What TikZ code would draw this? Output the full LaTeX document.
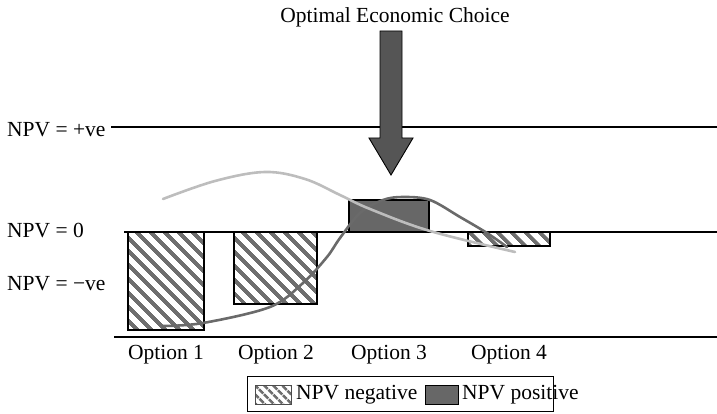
\documentclass[tikz,border=0pt]{standalone}
\usepackage{fontspec}
\setmainfont{Liberation Serif}
\usetikzlibrary{patterns.meta}
\definecolor{bargray}{HTML}{676767}
\definecolor{arrowgray}{HTML}{555555}
\definecolor{curvedark}{HTML}{6A6A6A}
\definecolor{curvelight}{HTML}{BDBDBD}
\definecolor{hatchgray}{HTML}{6E6E6E}
\tikzset{
  lbl/.style={inner sep=0pt, font=\fontsize{21.5}{24}\selectfont},
  level/.style={line width=1.8pt, black},
  negbar/.style={draw=black, line width=1.3pt, fill=white,
    pattern={Lines[angle=-45,distance=10.5pt,line width=4.3pt]}, pattern color=hatchgray},
  posbar/.style={draw=black, line width=1.3pt, fill=bargray},
  trend/.style={line width=2.6pt, line cap=round},
}
\begin{document}
\begin{tikzpicture}[x=1pt,y=-1pt]
\useasboundingbox (0,0) rectangle (717,414);

% NPV reference levels
\coordinate (pos-l) at (111,127); \coordinate (pos-r) at (717,127);
\coordinate (zero-l) at (124,232); \coordinate (zero-r) at (717,232);
\coordinate (neg-l) at (114,337); \coordinate (neg-r) at (717,337);
\draw[level] (pos-l) -- (pos-r);
\draw[level] (zero-l) -- (zero-r);
\draw[level] (neg-l) -- (neg-r);

\node[lbl, anchor=west] (lpos) at (7,130) {NPV = +ve};
\node[lbl, anchor=west] (lzero) at (7,231) {NPV = 0};
\node[lbl, anchor=west] (lneg) at (7,284) {NPV = −ve};

% option bars
\draw[negbar] (128,232) rectangle (204,330);
\draw[negbar] (234,232) rectangle (317,304);
\draw[posbar] (349,200) rectangle (429,232);
\draw[negbar] (468,232) rectangle (550,246);
\draw[level] (zero-l) -- (zero-r);

% trend curves
\draw[trend, curvedark] plot[smooth, tension=0.55] coordinates {
  (163,326) (203,323) (270,307) (303,283) (327,257) (340,238) (360,213)
  (383,200) (403,197) (430,200) (460,217) (487,233) (507,247)};
\draw[trend, curvelight] plot[smooth, tension=0.6] coordinates {
  (163,199) (215,181) (265,172) (305,179) (340,195) (370,209) (430,231) (515,252)};

% option labels
\node[lbl] (o1) at (166,355) {Option 1};
\node[lbl] (o2) at (276,355) {Option 2};
\node[lbl] (o3) at (389,355) {Option 3};
\node[lbl] (o4) at (509,355) {Option 4};

% optimal choice marker
\node[lbl] (title) at (395,17) {Optimal Economic Choice};
\draw[fill=arrowgray, draw=black, line width=0.9pt]
  (380,31) -- (402,31) -- (402,138) -- (413,138) -- (391,175)
  -- (369,138) -- (380,138) -- cycle;

% legend
\draw[line width=0.9pt] (247,376) rectangle (553,411);
\draw[draw=black!70, line width=0.9pt, fill=white,
  pattern={Lines[angle=-45,distance=6.5pt,line width=2.8pt]}, pattern color=hatchgray]
  (255,385) rectangle (291,404);
\node[lbl, anchor=west] (lgneg) at (296,395) {NPV negative};
\draw[draw=black, line width=0.9pt, fill=bargray] (425,385) rectangle (458,404);
\node[lbl, anchor=west] (lgpos) at (462,395) {NPV positive};
\end{tikzpicture}
\end{document}
